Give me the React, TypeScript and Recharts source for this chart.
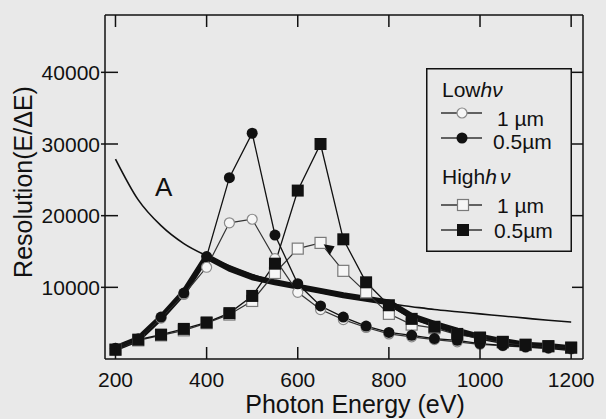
import React from "react";
import { LineChart, Line, XAxis, YAxis, ReferenceDot } from "recharts";

// photon energy (eV), one point every 50 eV
const energy = [
  200, 250, 300, 350, 400, 450, 500, 550, 600, 650, 700, 750, 800, 850, 900,
  950, 1000, 1050, 1100, 1150, 1200,
];

// thin curve "A"
const curveA = [
  27900, 22200, 18600, 16100, 14400, 13000, 11800, 10800, 10000, 9300, 8700,
  8200, 7700, 7300, 6900, 6600, 6300, 6000, 5700, 5400, 5150,
];

// thick curve (no markers)
const curveThick = [
  1500, 2800, 5800, 9300, 14300, 12600, 11400, 10700, 10100, 9500, 8900, 8400,
  7900, 6000, 4900, 3950, 3100, 2500, 2000, 1800, 1500,
];

// Low hv, 1 um (open circles)
const lowOne = [
  1500, 2800, 5700, 9000, 12800, 19000, 19500, 14000, 9300, 6900, 5500, 4400,
  3500, 3100, 2700, 2400, 2050, 1850, 1650, 1500, 1400,
];

// Low hv, 0.5 um (filled circles)
const lowHalf = [
  1500, 2800, 5850, 9200, 14300, 25300, 31500, 17300, 10500, 7400, 5850, 4600,
  3700, 3300, 2850, 2600, 2150, 1900, 1700, 1550, 1450,
];

// High hv, 1 um (open squares)
const highOne = [
  1300, 2600, 3300, 4000, 5000, 6200, 8100, 12000, 15400, 16200, 12300, 9300,
  6300, 4800, 4300, 3400, 2900, 2300, 1950, 1750, 1550,
];

// High hv, 0.5 um (filled squares)
const highHalf = [
  1300, 2700, 3400, 4200, 5100, 6400, 8800, 13300, 23500, 30000, 16700, 10700,
  7500, 5600, 4500, 3500, 3000, 2400, 2000, 1800, 1600,
];

const xTicks = [200, 400, 600, 800, 1000, 1200];
const yTicks = [10000, 20000, 30000, 40000];

const chartData = energy.map((e, i) => ({
  energy: e,
  a: curveA[i],
  thick: curveThick[i],
  lowOne: lowOne[i],
  lowHalf: lowHalf[i],
  highOne: highOne[i],
  highHalf: highHalf[i],
}));

const FONT = "'Liberation Sans', Arial, sans-serif";
const INK = "#111";
const BG = "#e9e9e9";

const BottomTick = (props: any) => {
  const { x, y, payload } = props;
  return (
    <g>
      <line x1={x} x2={x} y1={y} y2={y - 12} stroke={INK} strokeWidth={1.5} />
      <text x={x} y={y + 28} textAnchor="middle" fontSize={21} fontFamily={FONT} fill={INK}>
        {payload.value}
      </text>
    </g>
  );
};

const TopTick = (props: any) => {
  const { x, y } = props;
  return <line x1={x} x2={x} y1={y} y2={y + 12} stroke={INK} strokeWidth={1.5} />;
};

const LeftTick = (props: any) => {
  const { x, y, payload } = props;
  return (
    <g>
      <line x1={x - 4} x2={x + 13} y1={y} y2={y} stroke={INK} strokeWidth={1.5} />
      <text x={x - 5} y={y + 7.5} textAnchor="end" fontSize={21} fontFamily={FONT} fill={INK}>
        {payload.value}
      </text>
    </g>
  );
};

const RightTick = (props: any) => {
  const { x, y } = props;
  return <line x1={x} x2={x - 11} y1={y} y2={y} stroke={INK} strokeWidth={1.5} />;
};

const OpenCircle = (props: any) => {
  const { cx, cy } = props;
  if (cx == null || cy == null) return null;
  return <circle cx={cx} cy={cy} r={5} fill="#f6f6f6" stroke="#8a8a8a" strokeWidth={1.2} />;
};

const FilledCircle = (props: any) => {
  const { cx, cy } = props;
  if (cx == null || cy == null) return null;
  return <circle cx={cx} cy={cy} r={5.5} fill={INK} />;
};

const OpenSquare = (props: any) => {
  const { cx, cy } = props;
  if (cx == null || cy == null) return null;
  return <rect x={cx - 5.5} y={cy - 5.5} width={11} height={11} fill="#f6f6f6" stroke="#7a7a7a" strokeWidth={1.2} />;
};

const FilledSquare = (props: any) => {
  const { cx, cy } = props;
  if (cx == null || cy == null) return null;
  return <rect x={cx - 6} y={cy - 6} width={12} height={12} fill={INK} />;
};

const Arrowhead = (props: any) => {
  const { cx, cy } = props;
  return (
    <polygon
      points={`${cx - 6},${cy - 5} ${cx + 5},${cy - 3} ${cx},${cy + 6}`}
      fill={INK}
    />
  );
};

type LegendRow = { label: string; marker: "oc" | "fc" | "os" | "fs"; y: number; tx: number; ty: number };

const legendRows: LegendRow[] = [
  { label: "1 \u00b5m", marker: "oc", y: 45, tx: 71, ty: 58 },
  { label: "0.5\u00b5m", marker: "fc", y: 70, tx: 67, ty: 81 },
  { label: "1 \u00b5m", marker: "os", y: 137, tx: 71, ty: 145 },
  { label: "0.5\u00b5m", marker: "fs", y: 162, tx: 68, ty: 170 },
];

const LegendBox = () => (
  <svg
    width={146}
    height={184}
    style={{ position: "absolute", left: 426, top: 68 }}
  >
    <rect x={0.75} y={0.75} width={144.5} height={182.5} fill={BG} stroke={INK} strokeWidth={1.5} />
    <text x={16} y={29} fontSize={21} fontFamily={FONT} fill={INK}>
      Low<tspan fontStyle="italic">h</tspan>
      <tspan fontStyle="italic">ν</tspan>
    </text>
    <text x={16} y={116} fontSize={21} fontFamily={FONT} fill={INK}>
      High<tspan fontStyle="italic">h</tspan>
      <tspan dx={3} fontStyle="italic">ν</tspan>
    </text>
    {legendRows.map((r, i) => (
      <g key={i}>
        <line x1={15} x2={56} y1={r.y} y2={r.y} stroke="#333" strokeWidth={1.3} />
        {r.marker === "oc" && <OpenCircle cx={36} cy={r.y} />}
        {r.marker === "fc" && <FilledCircle cx={36} cy={r.y} />}
        {r.marker === "os" && <OpenSquare cx={37} cy={r.y} />}
        {r.marker === "fs" && <FilledSquare cx={37} cy={r.y} />}
        <text x={r.tx} y={r.ty} fontSize={21} fontFamily={FONT} fill={INK}>
          {r.label}
        </text>
      </g>
    ))}
  </svg>
);

export default function App() {
  return (
    <div style={{ position: "relative", width: 606, height: 419, background: BG }}>
      <style>{`body{margin:0;background:${BG};}`}</style>
      <LineChart
        width={606}
        height={419}
        data={chartData}
        margin={{ top: 14, right: 22, bottom: 0, left: 0 }}
      >
        <XAxis
          dataKey="energy"
          type="number"
          domain={[177, 1226]}
          ticks={xTicks}
          allowDataOverflow
          height={60}
          tickSize={0}
          tickMargin={0}
          tick={(p: any) => <BottomTick {...p} />}
          axisLine={{ stroke: INK, strokeWidth: 1.5 }}
          tickLine={false}
          label={{
            value: "Photon Energy (eV)",
            position: "insideBottom",
            offset: 6,
            dx: 11,
            style: { fontSize: 25, fontFamily: FONT, fill: INK },
          }}
        />
        <XAxis
          xAxisId="top"
          orientation="top"
          dataKey="energy"
          type="number"
          domain={[177, 1226]}
          ticks={xTicks}
          allowDataOverflow
          height={1}
          tickSize={0}
          tickMargin={0}
          tick={(p: any) => <TopTick {...p} />}
          axisLine={{ stroke: INK, strokeWidth: 1.5 }}
          tickLine={false}
        />
        <YAxis
          type="number"
          domain={[0, 48000]}
          ticks={yTicks}
          allowDataOverflow
          width={105}
          tickSize={0}
          tickMargin={0}
          tick={(p: any) => <LeftTick {...p} />}
          axisLine={{ stroke: INK, strokeWidth: 1.5 }}
          tickLine={false}
          label={{
            value: "Resolution(E/\u0394E)",
            position: "center",
            angle: -90,
            dx: -29.5,
            dy: -5,
            style: { fontSize: 25, fontFamily: FONT, fill: INK, textAnchor: "middle" },
          }}
        />
        <YAxis
          yAxisId="right"
          orientation="right"
          type="number"
          domain={[0, 48000]}
          ticks={yTicks}
          allowDataOverflow
          width={1}
          tickSize={0}
          tickMargin={0}
          tick={(p: any) => <RightTick {...p} />}
          axisLine={{ stroke: INK, strokeWidth: 1.5 }}
          tickLine={false}
        />
        <Line
          dataKey="a"
          xAxisId="top"
          yAxisId="right"
          type="monotone"
          stroke={INK}
          strokeWidth={1.6}
          dot={false}
          isAnimationActive={false}
        />
        <Line
          dataKey="thick"
          type="linear"
          stroke={INK}
          strokeWidth={6}
          strokeLinejoin="round"
          dot={false}
          isAnimationActive={false}
        />
        <Line
          dataKey="lowOne"
          type="linear"
          stroke="#333"
          strokeWidth={1.2}
          dot={(p: any) => <OpenCircle key={`oc${p.index}`} {...p} />}
          isAnimationActive={false}
        />
        <Line
          dataKey="highOne"
          type="linear"
          stroke="#333"
          strokeWidth={1.2}
          dot={(p: any) => <OpenSquare key={`os${p.index}`} {...p} />}
          isAnimationActive={false}
        />
        <Line
          dataKey="lowHalf"
          type="linear"
          stroke={INK}
          strokeWidth={1.3}
          dot={(p: any) => <FilledCircle key={`fc${p.index}`} {...p} />}
          isAnimationActive={false}
        />
        <Line
          dataKey="highHalf"
          type="linear"
          stroke={INK}
          strokeWidth={1.3}
          dot={(p: any) => <FilledSquare key={`fs${p.index}`} {...p} />}
          isAnimationActive={false}
        />
        <ReferenceDot x={670} y={15300} r={0} shape={(p: any) => <Arrowhead {...p} />} />
        <ReferenceDot
          x={306}
          y={24000}
          r={0}
          fill="none"
          stroke="none"
          label={{ value: "A", position: "center", fontSize: 26, fontFamily: FONT, fill: INK }}
        />
      </LineChart>
      <LegendBox />
    </div>
  );
}
